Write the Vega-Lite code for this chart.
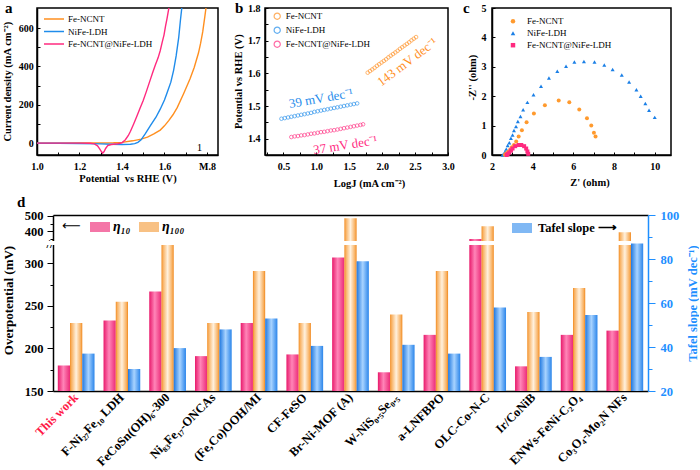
{
"$schema": "https://vega.github.io/schema/vega-lite/v6.json",
"background": "white",
"padding": {"left": 1, "top": -1, "right": 0, "bottom": 0},
"spacing": 5,
"resolve": {"scale": {"color": "independent", "shape": "independent", "fill": "independent"}, "legend": {"color": "independent", "shape": "independent", "fill": "independent"}},
"config": {
  "font": "Liberation Serif",
  "view": {"stroke": null},
  "axis": {"grid": false, "labelFont": "Liberation Serif", "titleFont": "Liberation Serif", "labelFontWeight": "bold", "titleFontWeight": "bold", "labelColor": "#000", "titleColor": "#000", "domainColor": "#000", "tickColor": "#000", "domainWidth": 1.5, "tickWidth": 1, "labelFlush": false, "labelOverlap": false, "labelBound": false, "tickCount": 100},
  "legend": {"labelFont": "Liberation Serif", "titleFont": "Liberation Serif", "labelColor": "#000", "labelLimit": 0}
},
"vconcat": [
{"hconcat": [
{"hconcat": [
{
  "width": 181, "height": 147,
  "view": {"stroke": "#000", "strokeWidth": 1.5},
  "data": {"values": [
    {"E":1.00,"J":0,"sa":"Fe-NCNT"},{"E":1.10,"J":0,"sa":"Fe-NCNT"},{"E":1.20,"J":0.5,"sa":"Fe-NCNT"},{"E":1.30,"J":1,"sa":"Fe-NCNT"},{"E":1.36,"J":2,"sa":"Fe-NCNT"},{"E":1.40,"J":4,"sa":"Fe-NCNT"},{"E":1.45,"J":12,"sa":"Fe-NCNT"},{"E":1.49,"J":21,"sa":"Fe-NCNT"},{"E":1.52,"J":31,"sa":"Fe-NCNT"},{"E":1.55,"J":48,"sa":"Fe-NCNT"},{"E":1.58,"J":68,"sa":"Fe-NCNT"},{"E":1.60,"J":90,"sa":"Fe-NCNT"},{"E":1.62,"J":117,"sa":"Fe-NCNT"},{"E":1.64,"J":148,"sa":"Fe-NCNT"},{"E":1.66,"J":185,"sa":"Fe-NCNT"},{"E":1.69,"J":258,"sa":"Fe-NCNT"},{"E":1.72,"J":335,"sa":"Fe-NCNT"},{"E":1.74,"J":395,"sa":"Fe-NCNT"},{"E":1.76,"J":470,"sa":"Fe-NCNT"},{"E":1.77,"J":520,"sa":"Fe-NCNT"},{"E":1.78,"J":580,"sa":"Fe-NCNT"},{"E":1.79,"J":660,"sa":"Fe-NCNT"},{"E":1.796,"J":710,"sa":"Fe-NCNT"},
    {"E":1.00,"J":-1,"sa":"NiFe-LDH"},{"E":1.10,"J":-1,"sa":"NiFe-LDH"},{"E":1.20,"J":-2,"sa":"NiFe-LDH"},{"E":1.30,"J":-4,"sa":"NiFe-LDH"},{"E":1.35,"J":-6,"sa":"NiFe-LDH"},{"E":1.40,"J":-7,"sa":"NiFe-LDH"},{"E":1.44,"J":-6,"sa":"NiFe-LDH"},{"E":1.46,"J":-3,"sa":"NiFe-LDH"},{"E":1.475,"J":4,"sa":"NiFe-LDH"},{"E":1.49,"J":17,"sa":"NiFe-LDH"},{"E":1.51,"J":50,"sa":"NiFe-LDH"},{"E":1.533,"J":90,"sa":"NiFe-LDH"},{"E":1.56,"J":135,"sa":"NiFe-LDH"},{"E":1.58,"J":177,"sa":"NiFe-LDH"},{"E":1.60,"J":225,"sa":"NiFe-LDH"},{"E":1.612,"J":262,"sa":"NiFe-LDH"},{"E":1.63,"J":318,"sa":"NiFe-LDH"},{"E":1.643,"J":380,"sa":"NiFe-LDH"},{"E":1.655,"J":455,"sa":"NiFe-LDH"},{"E":1.667,"J":550,"sa":"NiFe-LDH"},{"E":1.675,"J":640,"sa":"NiFe-LDH"},{"E":1.682,"J":710,"sa":"NiFe-LDH"},
    {"E":1.00,"J":0,"sa":"Fe-NCNT@NiFe-LDH"},{"E":1.10,"J":0,"sa":"Fe-NCNT@NiFe-LDH"},{"E":1.20,"J":0,"sa":"Fe-NCNT@NiFe-LDH"},{"E":1.25,"J":-1,"sa":"Fe-NCNT@NiFe-LDH"},{"E":1.27,"J":-4,"sa":"Fe-NCNT@NiFe-LDH"},{"E":1.285,"J":-14,"sa":"Fe-NCNT@NiFe-LDH"},{"E":1.295,"J":-30,"sa":"Fe-NCNT@NiFe-LDH"},{"E":1.303,"J":-44,"sa":"Fe-NCNT@NiFe-LDH"},{"E":1.309,"J":-52,"sa":"Fe-NCNT@NiFe-LDH"},{"E":1.316,"J":-44,"sa":"Fe-NCNT@NiFe-LDH"},{"E":1.323,"J":-28,"sa":"Fe-NCNT@NiFe-LDH"},{"E":1.333,"J":-13,"sa":"Fe-NCNT@NiFe-LDH"},{"E":1.35,"J":-7,"sa":"Fe-NCNT@NiFe-LDH"},{"E":1.38,"J":-3,"sa":"Fe-NCNT@NiFe-LDH"},{"E":1.40,"J":2,"sa":"Fe-NCNT@NiFe-LDH"},{"E":1.416,"J":18,"sa":"Fe-NCNT@NiFe-LDH"},{"E":1.43,"J":40,"sa":"Fe-NCNT@NiFe-LDH"},{"E":1.44,"J":62,"sa":"Fe-NCNT@NiFe-LDH"},{"E":1.455,"J":100,"sa":"Fe-NCNT@NiFe-LDH"},{"E":1.47,"J":140,"sa":"Fe-NCNT@NiFe-LDH"},{"E":1.485,"J":182,"sa":"Fe-NCNT@NiFe-LDH"},{"E":1.50,"J":222,"sa":"Fe-NCNT@NiFe-LDH"},{"E":1.515,"J":270,"sa":"Fe-NCNT@NiFe-LDH"},{"E":1.533,"J":330,"sa":"Fe-NCNT@NiFe-LDH"},{"E":1.545,"J":370,"sa":"Fe-NCNT@NiFe-LDH"},{"E":1.557,"J":408,"sa":"Fe-NCNT@NiFe-LDH"},{"E":1.57,"J":445,"sa":"Fe-NCNT@NiFe-LDH"},{"E":1.58,"J":482,"sa":"Fe-NCNT@NiFe-LDH"},{"E":1.59,"J":530,"sa":"Fe-NCNT@NiFe-LDH"},{"E":1.598,"J":565,"sa":"Fe-NCNT@NiFe-LDH"},{"E":1.605,"J":610,"sa":"Fe-NCNT@NiFe-LDH"},{"E":1.612,"J":650,"sa":"Fe-NCNT@NiFe-LDH"},{"E":1.62,"J":700,"sa":"Fe-NCNT@NiFe-LDH"},{"E":1.623,"J":710,"sa":"Fe-NCNT@NiFe-LDH"}
  ]},
  "layer": [
    {"mark": {"type": "line", "strokeWidth": 1.4, "clip": true},
     "encoding": {
       "x": {"field": "E", "type": "quantitative", "scale": {"domain": [1.0, 1.852], "nice": false, "zero": false},
             "axis": {"title": "Potential\u00a0 vs RHE (V)", "values": [1.0,1.1,1.2,1.3,1.4,1.5,1.6,1.7,1.8], "tickCount": 100, "labelExpr": "datum.value == 1.8 ? 'M.8' : (round(datum.value*10) % 2 == 0 ? format(datum.value, '.1f') : '')", "labelOverlap": false, "tickSize": -3, "labelPadding": 9, "labelFontSize": 10, "titleFontSize": 10.5, "titleX": 90.5, "titleY": 18.5, "titleAlign": "center", "titleBaseline": "top"}},
       "y": {"field": "J", "type": "quantitative", "scale": {"domain": [-62, 705], "nice": false, "zero": false},
             "axis": {"title": null, "values": [0,100,200,300,400,500,600], "tickCount": 100, "labelExpr": "datum.value % 200 == 0 ? datum.label : ''", "labelOverlap": false, "tickSize": -3, "labelPadding": 6.7, "labelFontSize": 10}},
       "color": {"field": "sa", "type": "nominal", "scale": {"domain": ["Fe-NCNT","NiFe-LDH","Fe-NCNT@NiFe-LDH"], "range": ["#ff8f1f","#1f8ceb","#ff2a7f"]},
             "legend": {"title": null, "orient": "none", "legendX": 11, "legendY": 5, "symbolType": "M-2,0H2", "symbolSize": 100, "symbolStrokeWidth": 1.5, "labelFontSize": 9, "labelOffset": 8, "rowPadding": 1.5}}
     }},
    {"data": {"values": [{"E": 1.765, "J": -26, "t": "1"}]},
     "mark": {"type": "text", "fontSize": 11, "color": "#000"},
     "encoding": {"x": {"field": "E", "type": "quantitative"}, "y": {"field": "J", "type": "quantitative"}, "text": {"field": "t"}}},
    {"data": {"values": [{"E": 0.849, "J": 680, "t": "a"}]},
     "mark": {"type": "text", "fontSize": 15, "fontWeight": "bold", "align": "left", "baseline": "alphabetic", "color": "#000"},
     "encoding": {"x": {"field": "E", "type": "quantitative"}, "y": {"field": "J", "type": "quantitative"}, "text": {"field": "t"}}},
    {"data": {"values": [{"E": 0.8612, "J": 320.5, "t": "Current density (mA cm⁻²)"}]},
     "mark": {"type": "text", "fontSize": 10.5, "fontWeight": "bold", "angle": 270, "align": "center", "baseline": "middle", "color": "#000"},
     "encoding": {"x": {"field": "E", "type": "quantitative"}, "y": {"field": "J", "type": "quantitative"}, "text": {"field": "t"}}}
  ]
},
{
  "width": 183, "height": 147,
  "view": {"stroke": "#000", "strokeWidth": 1.5},
  "data": {"values": [
    {"lj":1.78,"ep":1.602,"sb":"Fe-NCNT"},{"lj":1.815,"ep":1.607,"sb":"Fe-NCNT"},{"lj":1.85,"ep":1.612,"sb":"Fe-NCNT"},{"lj":1.885,"ep":1.617,"sb":"Fe-NCNT"},{"lj":1.92,"ep":1.623,"sb":"Fe-NCNT"},{"lj":1.955,"ep":1.628,"sb":"Fe-NCNT"},{"lj":1.99,"ep":1.633,"sb":"Fe-NCNT"},{"lj":2.025,"ep":1.638,"sb":"Fe-NCNT"},{"lj":2.06,"ep":1.643,"sb":"Fe-NCNT"},{"lj":2.095,"ep":1.649,"sb":"Fe-NCNT"},{"lj":2.13,"ep":1.654,"sb":"Fe-NCNT"},{"lj":2.165,"ep":1.659,"sb":"Fe-NCNT"},{"lj":2.2,"ep":1.664,"sb":"Fe-NCNT"},{"lj":2.235,"ep":1.669,"sb":"Fe-NCNT"},{"lj":2.27,"ep":1.675,"sb":"Fe-NCNT"},{"lj":2.305,"ep":1.68,"sb":"Fe-NCNT"},{"lj":2.34,"ep":1.685,"sb":"Fe-NCNT"},{"lj":2.375,"ep":1.69,"sb":"Fe-NCNT"},{"lj":2.41,"ep":1.695,"sb":"Fe-NCNT"},{"lj":2.445,"ep":1.701,"sb":"Fe-NCNT"},{"lj":2.48,"ep":1.706,"sb":"Fe-NCNT"},{"lj":2.515,"ep":1.711,"sb":"Fe-NCNT"},
    {"lj":0.47,"ep":1.461,"sb":"NiFe-LDH"},{"lj":0.52,"ep":1.463,"sb":"NiFe-LDH"},{"lj":0.57,"ep":1.465,"sb":"NiFe-LDH"},{"lj":0.62,"ep":1.467,"sb":"NiFe-LDH"},{"lj":0.67,"ep":1.469,"sb":"NiFe-LDH"},{"lj":0.72,"ep":1.471,"sb":"NiFe-LDH"},{"lj":0.77,"ep":1.473,"sb":"NiFe-LDH"},{"lj":0.82,"ep":1.475,"sb":"NiFe-LDH"},{"lj":0.87,"ep":1.477,"sb":"NiFe-LDH"},{"lj":0.92,"ep":1.479,"sb":"NiFe-LDH"},{"lj":0.97,"ep":1.482,"sb":"NiFe-LDH"},{"lj":1.02,"ep":1.484,"sb":"NiFe-LDH"},{"lj":1.07,"ep":1.486,"sb":"NiFe-LDH"},{"lj":1.12,"ep":1.488,"sb":"NiFe-LDH"},{"lj":1.17,"ep":1.49,"sb":"NiFe-LDH"},{"lj":1.22,"ep":1.492,"sb":"NiFe-LDH"},{"lj":1.27,"ep":1.494,"sb":"NiFe-LDH"},{"lj":1.32,"ep":1.496,"sb":"NiFe-LDH"},{"lj":1.37,"ep":1.498,"sb":"NiFe-LDH"},{"lj":1.42,"ep":1.5,"sb":"NiFe-LDH"},{"lj":1.47,"ep":1.502,"sb":"NiFe-LDH"},{"lj":1.52,"ep":1.504,"sb":"NiFe-LDH"},{"lj":1.57,"ep":1.506,"sb":"NiFe-LDH"},{"lj":1.62,"ep":1.508,"sb":"NiFe-LDH"},
    {"lj":0.62,"ep":1.405,"sb":"Fe-NCNT@NiFe-LDH"},{"lj":0.67,"ep":1.407,"sb":"Fe-NCNT@NiFe-LDH"},{"lj":0.72,"ep":1.408,"sb":"Fe-NCNT@NiFe-LDH"},{"lj":0.77,"ep":1.41,"sb":"Fe-NCNT@NiFe-LDH"},{"lj":0.82,"ep":1.411,"sb":"Fe-NCNT@NiFe-LDH"},{"lj":0.87,"ep":1.413,"sb":"Fe-NCNT@NiFe-LDH"},{"lj":0.92,"ep":1.415,"sb":"Fe-NCNT@NiFe-LDH"},{"lj":0.97,"ep":1.416,"sb":"Fe-NCNT@NiFe-LDH"},{"lj":1.02,"ep":1.418,"sb":"Fe-NCNT@NiFe-LDH"},{"lj":1.07,"ep":1.42,"sb":"Fe-NCNT@NiFe-LDH"},{"lj":1.12,"ep":1.421,"sb":"Fe-NCNT@NiFe-LDH"},{"lj":1.17,"ep":1.423,"sb":"Fe-NCNT@NiFe-LDH"},{"lj":1.22,"ep":1.425,"sb":"Fe-NCNT@NiFe-LDH"},{"lj":1.27,"ep":1.426,"sb":"Fe-NCNT@NiFe-LDH"},{"lj":1.32,"ep":1.428,"sb":"Fe-NCNT@NiFe-LDH"},{"lj":1.37,"ep":1.43,"sb":"Fe-NCNT@NiFe-LDH"},{"lj":1.42,"ep":1.432,"sb":"Fe-NCNT@NiFe-LDH"},{"lj":1.47,"ep":1.434,"sb":"Fe-NCNT@NiFe-LDH"},{"lj":1.52,"ep":1.436,"sb":"Fe-NCNT@NiFe-LDH"},{"lj":1.57,"ep":1.438,"sb":"Fe-NCNT@NiFe-LDH"},{"lj":1.62,"ep":1.44,"sb":"Fe-NCNT@NiFe-LDH"},{"lj":1.67,"ep":1.442,"sb":"Fe-NCNT@NiFe-LDH"},{"lj":1.71,"ep":1.444,"sb":"Fe-NCNT@NiFe-LDH"}
  ]},
  "layer": [
    {"mark": {"type": "point", "filled": false, "size": 13, "strokeWidth": 0.9},
     "encoding": {
       "x": {"field": "lj", "type": "quantitative", "scale": {"domain": [0.22, 3.0], "nice": false, "zero": false},
             "axis": {"title": "LogJ (mA cm⁻²)", "values": [0.25,0.5,0.75,1.0,1.25,1.5,1.75,2.0,2.25,2.5,2.75,3.0], "tickCount": 100, "labelExpr": "round(datum.value*100) % 50 == 0 ? format(datum.value, '.1f') : ''", "labelOverlap": false, "tickSize": -3, "labelPadding": 9, "labelFontSize": 10, "titleFontSize": 10.5, "titleX": 104, "titleY": 23, "titleAlign": "center", "titleBaseline": "top"}},
       "y": {"field": "ep", "type": "quantitative", "scale": {"domain": [1.35, 1.8], "nice": false, "zero": false},
             "axis": {"title": null, "values": [1.35,1.4,1.45,1.5,1.55,1.6,1.65,1.7,1.75,1.8], "tickCount": 100, "labelExpr": "round(datum.value*100) % 10 == 0 ? format(datum.value, '.1f') : ''", "labelOverlap": false, "tickSize": -3, "labelPadding": 8, "labelFontSize": 10}},
       "color": {"field": "sb", "type": "nominal", "scale": {"domain": ["Fe-NCNT","NiFe-LDH","Fe-NCNT@NiFe-LDH"], "range": ["#ff8f1f","#1f8ceb","#ff2a7f"]},
             "legend": {"title": null, "orient": "none", "legendX": 7.7, "legendY": 3.7, "symbolType": "circle", "symbolSize": 38, "symbolStrokeWidth": 1.2, "labelFontSize": 9, "labelOffset": 4, "rowPadding": 3}}
     }},
    {"data": {"values": [{"x": 2.38, "y": 1.634, "t": "143 mV dec⁻¹"}]},
     "mark": {"type": "text", "fontSize": 13, "angle": 323, "color": "#ff8f1f"},
     "encoding": {"x": {"field": "x", "type": "quantitative"}, "y": {"field": "y", "type": "quantitative"}, "text": {"field": "t"}}},
    {"data": {"values": [{"x": 1.07, "y": 1.523, "t": "39 mV dec⁻¹"}]},
     "mark": {"type": "text", "fontSize": 13, "angle": 350, "color": "#1f8ceb"},
     "encoding": {"x": {"field": "x", "type": "quantitative"}, "y": {"field": "y", "type": "quantitative"}, "text": {"field": "t"}}},
    {"data": {"values": [{"x": 1.44, "y": 1.38, "t": "37 mV dec⁻¹"}]},
     "mark": {"type": "text", "fontSize": 13, "angle": 351, "color": "#ff2a7f"},
     "encoding": {"x": {"field": "x", "type": "quantitative"}, "y": {"field": "y", "type": "quantitative"}, "text": {"field": "t"}}},
    {"data": {"values": [{"x": -0.236, "y": 1.7856, "t": "b"}]},
     "mark": {"type": "text", "fontSize": 15, "fontWeight": "bold", "align": "left", "baseline": "alphabetic", "color": "#000"},
     "encoding": {"x": {"field": "x", "type": "quantitative"}, "y": {"field": "y", "type": "quantitative"}, "text": {"field": "t"}}},
    {"data": {"values": [{"x": -0.172, "y": 1.5744, "t": "Potential vs RHE (V)"}]},
     "mark": {"type": "text", "fontSize": 10.5, "fontWeight": "bold", "angle": 270, "align": "center", "baseline": "middle", "color": "#000"},
     "encoding": {"x": {"field": "x", "type": "quantitative"}, "y": {"field": "y", "type": "quantitative"}, "text": {"field": "t"}}}
  ]
}
], "spacing": 14, "resolve": {"scale": {"color": "independent"}, "legend": {"color": "independent"}}},
{
  "width": 179, "height": 147,
  "view": {"stroke": "#000", "strokeWidth": 1.5},
  "data": {"values": [
    {"zr":2.52,"zi":0,"sc":"NiFe-LDH"},{"zr":2.57,"zi":0.03,"sc":"NiFe-LDH"},{"zr":2.64,"zi":0.11,"sc":"NiFe-LDH"},{"zr":2.70,"zi":0.20,"sc":"NiFe-LDH"},{"zr":2.77,"zi":0.32,"sc":"NiFe-LDH"},{"zr":2.85,"zi":0.42,"sc":"NiFe-LDH"},{"zr":2.93,"zi":0.57,"sc":"NiFe-LDH"},{"zr":3.01,"zi":0.68,"sc":"NiFe-LDH"},{"zr":3.08,"zi":0.83,"sc":"NiFe-LDH"},{"zr":3.18,"zi":0.97,"sc":"NiFe-LDH"},{"zr":3.27,"zi":1.14,"sc":"NiFe-LDH"},{"zr":3.40,"zi":1.31,"sc":"NiFe-LDH"},{"zr":3.53,"zi":1.54,"sc":"NiFe-LDH"},{"zr":3.74,"zi":1.79,"sc":"NiFe-LDH"},{"zr":4.04,"zi":2.05,"sc":"NiFe-LDH"},{"zr":4.41,"zi":2.34,"sc":"NiFe-LDH"},{"zr":4.80,"zi":2.62,"sc":"NiFe-LDH"},{"zr":5.21,"zi":2.85,"sc":"NiFe-LDH"},{"zr":5.64,"zi":3.02,"sc":"NiFe-LDH"},{"zr":6.05,"zi":3.16,"sc":"NiFe-LDH"},{"zr":6.52,"zi":3.18,"sc":"NiFe-LDH"},{"zr":7.04,"zi":3.16,"sc":"NiFe-LDH"},{"zr":7.52,"zi":3.06,"sc":"NiFe-LDH"},{"zr":7.93,"zi":2.91,"sc":"NiFe-LDH"},{"zr":8.38,"zi":2.72,"sc":"NiFe-LDH"},{"zr":8.74,"zi":2.48,"sc":"NiFe-LDH"},{"zr":9.10,"zi":2.22,"sc":"NiFe-LDH"},{"zr":9.31,"zi":2.00,"sc":"NiFe-LDH"},{"zr":9.54,"zi":1.75,"sc":"NiFe-LDH"},{"zr":9.72,"zi":1.52,"sc":"NiFe-LDH"},{"zr":10.0,"zi":1.28,"sc":"NiFe-LDH"},
    {"zr":2.63,"zi":0.01,"sc":"Fe-NCNT"},{"zr":2.69,"zi":0.05,"sc":"Fe-NCNT"},{"zr":2.79,"zi":0.11,"sc":"Fe-NCNT"},{"zr":2.90,"zi":0.19,"sc":"Fe-NCNT"},{"zr":2.98,"zi":0.26,"sc":"Fe-NCNT"},{"zr":3.08,"zi":0.34,"sc":"Fe-NCNT"},{"zr":3.19,"zi":0.46,"sc":"Fe-NCNT"},{"zr":3.31,"zi":0.63,"sc":"Fe-NCNT"},{"zr":3.47,"zi":0.84,"sc":"Fe-NCNT"},{"zr":3.70,"zi":1.11,"sc":"Fe-NCNT"},{"zr":4.06,"zi":1.41,"sc":"Fe-NCNT"},{"zr":4.60,"zi":1.69,"sc":"Fe-NCNT"},{"zr":5.28,"zi":1.85,"sc":"Fe-NCNT"},{"zr":5.80,"zi":1.79,"sc":"Fe-NCNT"},{"zr":6.29,"zi":1.55,"sc":"Fe-NCNT"},{"zr":6.67,"zi":1.25,"sc":"Fe-NCNT"},{"zr":6.88,"zi":1.00,"sc":"Fe-NCNT"},{"zr":7.01,"zi":0.76,"sc":"Fe-NCNT"},{"zr":7.09,"zi":0.63,"sc":"Fe-NCNT"},
    {"zr":2.72,"zi":0.0,"sc":"Fe-NCNT@NiFe-LDH"},{"zr":2.77,"zi":0.03,"sc":"Fe-NCNT@NiFe-LDH"},{"zr":2.85,"zi":0.08,"sc":"Fe-NCNT@NiFe-LDH"},{"zr":2.93,"zi":0.15,"sc":"Fe-NCNT@NiFe-LDH"},{"zr":3.01,"zi":0.22,"sc":"Fe-NCNT@NiFe-LDH"},{"zr":3.14,"zi":0.30,"sc":"Fe-NCNT@NiFe-LDH"},{"zr":3.31,"zi":0.34,"sc":"Fe-NCNT@NiFe-LDH"},{"zr":3.44,"zi":0.34,"sc":"Fe-NCNT@NiFe-LDH"},{"zr":3.58,"zi":0.30,"sc":"Fe-NCNT@NiFe-LDH"},{"zr":3.68,"zi":0.22,"sc":"Fe-NCNT@NiFe-LDH"},{"zr":3.74,"zi":0.12,"sc":"Fe-NCNT@NiFe-LDH"},{"zr":3.78,"zi":0.04,"sc":"Fe-NCNT@NiFe-LDH"}
  ]},
  "layer": [
   {"mark": {"type": "point", "filled": true, "size": 16, "opacity": 1},
    "encoding": {
    "x": {"field": "zr", "type": "quantitative", "scale": {"domain": [2, 10.8], "nice": false, "zero": false},
          "axis": {"title": "Z' (ohm)", "values": [2,3,4,5,6,7,8,9,10], "tickCount": 100, "labelExpr": "datum.value % 2 == 0 ? format(datum.value, 'd') : ''", "labelOverlap": false, "tickSize": -3, "labelPadding": 9, "labelFontSize": 10, "titleFontSize": 10.5, "titleX": 97.5, "titleY": 22, "titleAlign": "center", "titleBaseline": "top"}},
    "y": {"field": "zi", "type": "quantitative", "scale": {"domain": [0, 5], "nice": false, "zero": false},
          "axis": {"title": null, "values": [0,1,2,3,4,5], "tickCount": 100, "labelExpr": "format(datum.value, 'd')", "labelOverlap": false, "tickSize": -3, "labelPadding": 9, "labelFontSize": 10}},
    "color": {"field": "sc", "type": "nominal", "scale": {"domain": ["Fe-NCNT","NiFe-LDH","Fe-NCNT@NiFe-LDH"], "range": ["#ff9a2e","#1a7fe6","#ff2a7f"]},
          "legend": {"title": null, "orient": "none", "legendX": 16.5, "legendY": 8.7, "symbolSize": 20, "labelFontSize": 9, "labelOffset": 9.5, "rowPadding": 2}},
    "shape": {"field": "sc", "type": "nominal", "scale": {"domain": ["Fe-NCNT","NiFe-LDH","Fe-NCNT@NiFe-LDH"], "range": ["circle","triangle-up","square"]},
          "legend": {"title": null, "orient": "none", "legendX": 16.5, "legendY": 8.7, "symbolSize": 20, "labelFontSize": 9, "labelOffset": 9.5, "rowPadding": 2}}
    }},
   {"data": {"values": [{"zr": 0.574, "zi": 4.84, "t": "c"}]},
    "mark": {"type": "text", "fontSize": 15, "fontWeight": "bold", "align": "left", "baseline": "alphabetic", "color": "#000"},
    "encoding": {"x": {"field": "zr", "type": "quantitative"}, "y": {"field": "zi", "type": "quantitative"}, "text": {"field": "t"}}},
   {"data": {"values": [{"zr": 1.056, "zi": 2.63, "t": "-Z'' (ohm)"}]},
    "mark": {"type": "text", "fontSize": 10.5, "fontWeight": "bold", "angle": 270, "align": "center", "baseline": "middle", "color": "#000"},
    "encoding": {"x": {"field": "zr", "type": "quantitative"}, "y": {"field": "zi", "type": "quantitative"}, "text": {"field": "t"}}}
  ]
}
], "spacing": 7, "resolve": {"scale": {"color": "independent", "shape": "independent"}, "legend": {"color": "independent", "shape": "independent"}}},
{
  "width": 611, "height": 176,
  "view": {"stroke": null},
  "data": {"values": [
    {"c":"This work","s":"η10","v":180},{"c":"This work","s":"η100","v":230},{"c":"This work","s":"Tafel","v":37},
    {"c":"F-Ni₂₇Fe₁₀ LDH","s":"η10","v":233},{"c":"F-Ni₂₇Fe₁₀ LDH","s":"η100","v":255},{"c":"F-Ni₂₇Fe₁₀ LDH","s":"Tafel","v":30},
    {"c":"FeCoSn(OH)₆-300","s":"η10","v":267},{"c":"FeCoSn(OH)₆-300","s":"η100","v":322},{"c":"FeCoSn(OH)₆-300","s":"Tafel","v":39.5},
    {"c":"Ni₈₃Fe₁₇-ONCAs","s":"η10","v":191},{"c":"Ni₈₃Fe₁₇-ONCAs","s":"η100","v":230},{"c":"Ni₈₃Fe₁₇-ONCAs","s":"Tafel","v":48},
    {"c":"(Fe,Co)OOH/MI","s":"η10","v":230},{"c":"(Fe,Co)OOH/MI","s":"η100","v":291},{"c":"(Fe,Co)OOH/MI","s":"Tafel","v":53},
    {"c":"CF-FeSO","s":"η10","v":193},{"c":"CF-FeSO","s":"η100","v":230},{"c":"CF-FeSO","s":"Tafel","v":40.5},
    {"c":"Br-Ni-MOF (A)","s":"η10","v":307},{"c":"Br-Ni-MOF (A)","s":"η100","v":484},{"c":"Br-Ni-MOF (A)","s":"Tafel","v":79},
    {"c":"W-NiS₀.₅Se₀.₅","s":"η10","v":172},{"c":"W-NiS₀.₅Se₀.₅","s":"η100","v":240},{"c":"W-NiS₀.₅Se₀.₅","s":"Tafel","v":41},
    {"c":"a-LNFBPO","s":"η10","v":216},{"c":"a-LNFBPO","s":"η100","v":291},{"c":"a-LNFBPO","s":"Tafel","v":37},
    {"c":"OLC-Co-N-C","s":"η10","v":350},{"c":"OLC-Co-N-C","s":"η100","v":432},{"c":"OLC-Co-N-C","s":"Tafel","v":58},
    {"c":"Ir/CoNiB","s":"η10","v":179},{"c":"Ir/CoNiB","s":"η100","v":243},{"c":"Ir/CoNiB","s":"Tafel","v":35.5},
    {"c":"ENWs-FeNi-C₂O₄","s":"η10","v":216},{"c":"ENWs-FeNi-C₂O₄","s":"η100","v":271},{"c":"ENWs-FeNi-C₂O₄","s":"Tafel","v":54.5},
    {"c":"Co₃O₄-Mo₂N NFs","s":"η10","v":221},{"c":"Co₃O₄-Mo₂N NFs","s":"η100","v":393},{"c":"Co₃O₄-Mo₂N NFs","s":"Tafel","v":87}
  ]},
  "layer": [
    {"layer": [
      {"transform": [{"filter": "datum.s === 'η10'"}],
       "mark": {"type": "bar", "fill": {"gradient": "linear", "x1": 0, "y1": 0, "x2": 1, "y2": 0, "stops": [{"offset": 0, "color": "#e8196b"}, {"offset": 0.45, "color": "#ff85b8"}, {"offset": 1, "color": "#ec2a77"}]}},
       "encoding": {
         "x": {"field": "c", "type": "nominal", "sort": null,
               "scale": {"domain": ["This work","F-Ni₂₇Fe₁₀ LDH","FeCoSn(OH)₆-300","Ni₈₃Fe₁₇-ONCAs","(Fe,Co)OOH/MI","CF-FeSO","Br-Ni-MOF (A)","W-NiS₀.₅Se₀.₅","a-LNFBPO","OLC-Co-N-C","Ir/CoNiB","ENWs-FeNi-C₂O₄","Co₃O₄-Mo₂N NFs"], "range": [16, 611], "paddingInner": 0.197, "paddingOuter": 0.105, "align": 0.5},
               "axis": {"orient": "bottom", "title": null, "ticks": false, "labelAngle": -45, "labelAlign": "right", "labelBaseline": "middle", "labelFontSize": 12.5, "labelPadding": 4, "labelOverlap": false, "labelColor": {"condition": {"test": "datum.value === 'This work'", "value": "#ff1a47"}, "value": "#000"}}},
         "xOffset": {"field": "s", "type": "nominal", "scale": {"domain": ["η10","η100","Tafel"], "paddingInner": 0, "paddingOuter": 0}},
         "y": {"field": "v", "type": "quantitative", "scale": {"domain": [150, 324, 505], "range": [176, 28, 0], "nice": false, "zero": false},
               "axis": {"offset": -16, "title": "Overpotential (mV)", "titleFontSize": 13, "titleX": -38, "titleY": 85, "titleAngle": 270, "titleBaseline": "bottom", "titleAlign": "center",
                        "values": [150,175,200,225,250,275,300,324,350,400,450,500], "tickCount": 100,
                        "labelOverlap": false,
                        "labelExpr": "datum.value == 324 ? '\u00a0\u00a0//' : (indexof([150,200,250,300,400,500], datum.value) >= 0 ? datum.label : '')",
                        "labelAlign": {"condition": {"test": "datum.value == 324", "value": "left"}, "value": "right"},
                        "tickOpacity": {"condition": {"test": "datum.value == 324", "value": 0}, "value": 1},
                        "tickSize": {"condition": {"test": "indexof([150,200,250,300,400,500], datum.value) >= 0", "value": 6}, "value": 3},
                        "labelPadding": 4, "labelFontSize": 12.5}},
         "y2": {"datum": 150}
       }},
      {"transform": [{"filter": "datum.s === 'η100'"}],
       "mark": {"type": "bar", "fill": {"gradient": "linear", "x1": 0, "y1": 0, "x2": 1, "y2": 0, "stops": [{"offset": 0, "color": "#f28a1e"}, {"offset": 0.12, "color": "#f8b060"}, {"offset": 0.5, "color": "#fff1de"}, {"offset": 0.88, "color": "#f8ae5c"}, {"offset": 1, "color": "#f0861a"}]}},
       "encoding": {
         "x": {"field": "c", "type": "nominal", "sort": null},
         "xOffset": {"field": "s", "type": "nominal", "scale": {"domain": ["η10","η100","Tafel"], "paddingInner": 0, "paddingOuter": 0}},
         "y": {"field": "v", "type": "quantitative"},
         "y2": {"datum": 150}
       }},
      {"mark": {"type": "rule", "color": "#ffffff", "strokeWidth": 3},
       "encoding": {"y": {"datum": 324, "type": "quantitative"}}},
      {"data": {"values": [{"t": "d"}]},
       "mark": {"type": "text", "fontSize": 15, "fontWeight": "bold", "align": "left", "baseline": "alphabetic", "color": "#000", "dx": -47, "dy": -8},
       "encoding": {"x": {"datum": "This work"}, "xOffset": {"datum": "η10"}, "y": {"datum": 505, "type": "quantitative"}, "text": {"field": "t"}}},
      {"data": {"values": []},
       "mark": {"type": "point", "filled": true},
       "encoding": {"fill": {"field": "L", "type": "nominal", "scale": {"domain": ["η₁₀","η₁₀₀"], "range": ["#f03c82","#f5a650"]},
         "legend": {"title": "⟵", "titleOrient": "left", "titleFont": "DejaVu Sans", "titleFontSize": 13, "titleFontWeight": "normal", "titlePadding": 9,
                    "orient": "none", "legendX": 25, "legendY": 2, "direction": "horizontal",
                    "symbolType": "M-1,-0.5H1V0.5H-1Z", "symbolSize": 400, "symbolStrokeWidth": 0,
                    "labelFontSize": 14, "labelFontStyle": "italic", "labelFontWeight": "bold", "labelOffset": 3, "columnPadding": 8,
                    "encode": {"symbols": {"update": {"fill": [{"test": "datum.value === 'η₁₀'", "value": {"gradient": "linear", "x1": 0, "y1": 0, "x2": 1, "y2": 0, "stops": [{"offset": 0, "color": "#e8196b"}, {"offset": 0.45, "color": "#ff85b8"}, {"offset": 1, "color": "#ec2a77"}]}}, {"value": {"gradient": "linear", "x1": 0, "y1": 0, "x2": 1, "y2": 0, "stops": [{"offset": 0, "color": "#f28a1e"}, {"offset": 0.5, "color": "#fff1de"}, {"offset": 1, "color": "#f0861a"}]}}], "opacity": {"value": 1}}}}}}}}
    ]},
    {"layer": [
      {"transform": [{"filter": "datum.s === 'Tafel'"}],
       "mark": {"type": "bar", "fill": {"gradient": "linear", "x1": 0, "y1": 0, "x2": 1, "y2": 0, "stops": [{"offset": 0, "color": "#1f78e0"}, {"offset": 0.5, "color": "#a8d3ff"}, {"offset": 1, "color": "#2b85ea"}]}},
       "encoding": {
         "x": {"field": "c", "type": "nominal", "sort": null, "axis": {"orient": "top", "title": null, "labels": false, "ticks": false, "domain": true, "domainColor": "#000", "domainWidth": 1.5}},
         "xOffset": {"field": "s", "type": "nominal", "scale": {"domain": ["η10","η100","Tafel"], "paddingInner": 0, "paddingOuter": 0}},
         "y": {"field": "v", "type": "quantitative", "scale": {"domain": [20, 100], "nice": false, "zero": false},
               "axis": {"orient": "right", "title": "Tafel slope (mV dec⁻¹)", "titleColor": "#1e8fff", "titleFontSize": 12.5, "titleX": 38, "titleY": 88, "titleAngle": 270, "titleBaseline": "top", "titleAlign": "center",
                        "values": [20,30,40,50,60,70,80,90,100], "tickCount": 100, "labelExpr": "datum.value % 20 == 0 ? datum.label : ''", "labelOverlap": false,
                        "labelColor": "#1e8fff", "domainColor": "#1e8fff", "tickColor": "#1e8fff",
                        "tickSize": {"condition": {"test": "datum.value % 20 == 0", "value": 7}, "value": 4},
                        "labelPadding": 5, "labelFontSize": 12.5, "zindex": 1}},
         "y2": {"datum": 20}
       }},
      {"data": {"values": []},
       "mark": {"type": "point", "filled": true},
       "encoding": {"fill": {"field": "L2", "type": "nominal", "scale": {"domain": ["Tafel slope ⟶"], "range": ["#4a9af0"]},
         "legend": {"title": null, "orient": "none", "legendX": 475, "legendY": 3,
                    "symbolType": "M-1,-0.5H1V0.5H-1Z", "symbolSize": 400, "symbolStrokeWidth": 0,
                    "labelFontSize": 12.5, "labelFontWeight": "bold", "labelOffset": 6,
                    "encode": {"symbols": {"update": {"fill": {"value": {"gradient": "linear", "x1": 0, "y1": 0, "x2": 1, "y2": 0, "stops": [{"offset": 0, "color": "#1f78e0"}, {"offset": 0.5, "color": "#a8d3ff"}, {"offset": 1, "color": "#2b85ea"}]}}, "opacity": {"value": 1}}}}}}}}
    ]}
  ],
  "resolve": {"scale": {"y": "independent", "fill": "independent"}, "axis": {"y": "independent", "x": "independent"}, "legend": {"fill": "independent"}}
}
]
}
